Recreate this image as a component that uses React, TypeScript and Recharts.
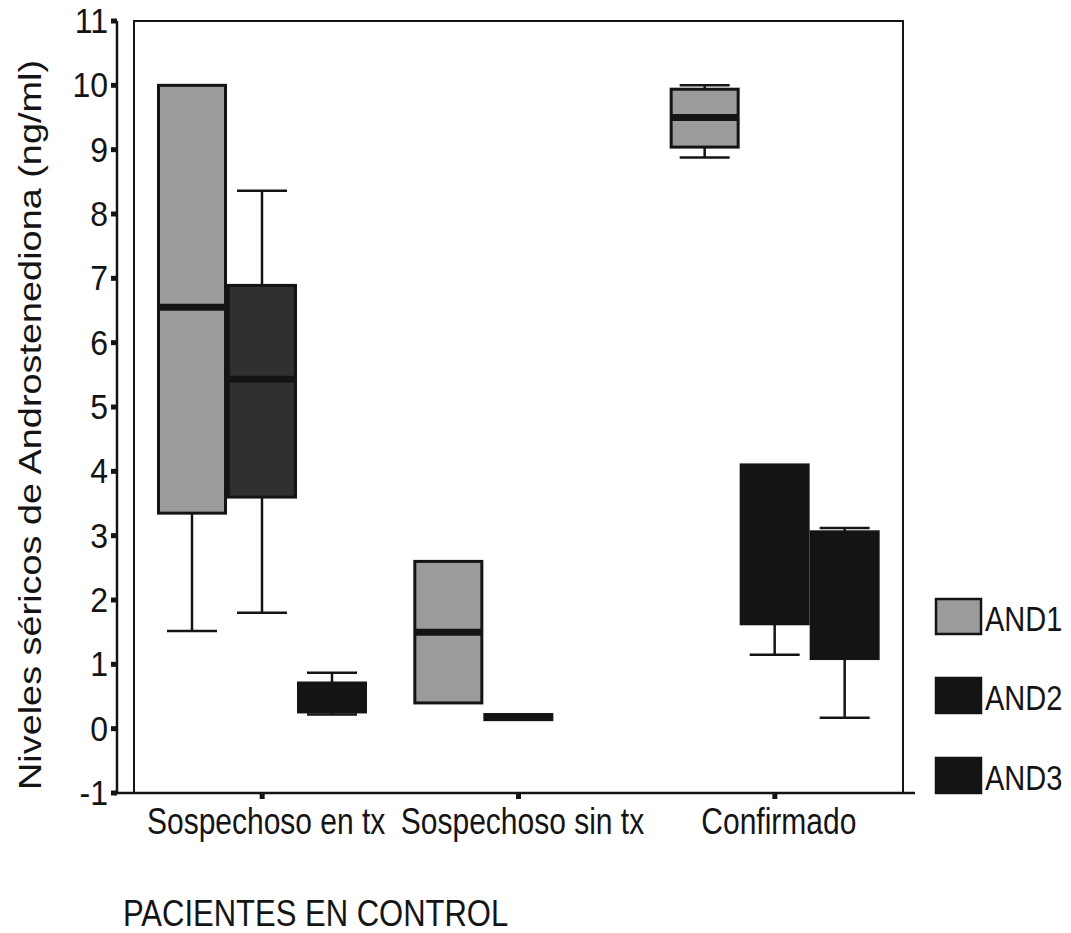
import React from 'react';
import { ComposedChart, Bar, XAxis, YAxis, ReferenceArea } from 'recharts';

const CATEGORIES = ['Sospechoso en tx', 'Sospechoso sin tx', 'Confirmado'];
const SERIES = ['AND1', 'AND2', 'AND3'];
const Y_TICKS = [-1, 0, 1, 2, 3, 4, 5, 6, 7, 8, 9, 10, 11];

// box plot summaries per group (null = no box drawn)
const AND1_MIN = [1.52, 0.4, 8.88];
const AND1_Q1 = [3.35, 0.4, 9.04];
const AND1_MEDIAN = [6.55, 1.5, 9.5];
const AND1_Q3 = [10.0, 2.6, 9.94];
const AND1_MAX = [10.0, 2.6, 10.0];

const AND2_MIN = [1.8, 0.14, 1.15];
const AND2_Q1 = [3.6, 0.14, 1.63];
const AND2_MEDIAN = [5.43, 0.18, 2.6];
const AND2_Q3 = [6.89, 0.22, 4.1];
const AND2_MAX = [8.36, 0.22, 4.1];

const AND3_MIN = [0.22, null, 0.17];
const AND3_Q1 = [0.26, null, 1.09];
const AND3_MEDIAN = [0.5, null, 2.0];
const AND3_Q3 = [0.71, null, 3.06];
const AND3_MAX = [0.87, null, 3.12];

const FONT = '"Liberation Sans", Arial, sans-serif';
const INK = '#141414';
// the scanned original is stretched vertically
const STRETCH = 1.2;

const FILLS: Record<string, string> = { AND1: '#9b9b9b', AND2: INK, AND3: INK };

function summary(min: any[], q1: any[], med: any[], q3: any[], max: any[], i: number) {
    if (min[i] == null) return null;
    return { min: min[i], q1: q1[i], med: med[i], q3: q3[i], max: max[i] };
}

const data = CATEGORIES.map((name, i) => ({
    name,
    AND1: summary(AND1_MIN, AND1_Q1, AND1_MEDIAN, AND1_Q3, AND1_MAX, i),
    AND2: summary(AND2_MIN, AND2_Q1, AND2_MEDIAN, AND2_Q3, AND2_MAX, i),
    AND3: summary(AND3_MIN, AND3_Q1, AND3_MEDIAN, AND3_Q3, AND3_MAX, i),
}));

function BoxShape(props: any) {
    const { x, y, width, height, payload, series, index } = props;
    const s = payload && payload[series];
    if (!s || width == null) return <g />;
    const top = Math.min(y, y + height);
    const bottom = Math.max(y, y + height);
    const ppu = (bottom - top) / (s.max - s.min);
    const py = (v: number) => top + (s.max - v) * ppu;
    const cx = x + width / 2;
    const cap = 25;
    // first AND2 box prints lighter in the original
    const fill = series === 'AND2' && index === 0 ? '#303030' : FILLS[series];
    return (
        <g>
            {s.max > s.q3 && (
                <g stroke={INK} strokeWidth={2.5}>
                    <line x1={cx} x2={cx} y1={py(s.max)} y2={py(s.q3)} />
                    <line x1={cx - cap} x2={cx + cap} y1={py(s.max)} y2={py(s.max)} />
                </g>
            )}
            {s.min < s.q1 && (
                <g stroke={INK} strokeWidth={2.5}>
                    <line x1={cx} x2={cx} y1={py(s.q1)} y2={py(s.min)} />
                    <line x1={cx - cap} x2={cx + cap} y1={py(s.min)} y2={py(s.min)} />
                </g>
            )}
            <rect
                x={x + 1.5}
                y={py(s.q3)}
                width={width - 3}
                height={Math.max(py(s.q1) - py(s.q3), 1)}
                fill={fill}
                stroke={INK}
                strokeWidth={3}
            />
            {fill !== INK && (
                <line x1={x + 1.5} x2={x + width - 1.5} y1={py(s.med)} y2={py(s.med)} stroke={INK} strokeWidth={7} />
            )}
        </g>
    );
}

const YTick = ({ x, y, payload }: any) => (
    <g transform={`translate(${x},${y}) scale(1,1.1)`}>
        <text x={0} y={0} dy={11} textAnchor="end" fontSize={32} fontFamily={FONT} fill={INK}>
            {payload.value}
        </text>
    </g>
);

const XTick = ({ x, y, payload }: any) => (
    <g transform={`translate(${x + 4},${y}) scale(1,${STRETCH})`}>
        <text x={0} y={0} dy={29} textAnchor="middle" fontSize={30} fontFamily={FONT} fill={INK}>
            {payload.value}
        </text>
    </g>
);

const LEGEND_TOPS = [598, 677, 757];

export default function App() {
    return (
        <div style={{ position: 'absolute', left: 0, top: 0, width: 1071, height: 933, background: '#fff' }}>
            <ComposedChart
                width={1071}
                height={933}
                data={data}
                margin={{ top: 21, right: 156, bottom: 80, left: 37 }}
                barGap={0}
            >
                <ReferenceArea y1={-1} y2={11} fill="none" stroke={INK} strokeWidth={2} />
                <XAxis
                    dataKey="name"
                    height={60}
                    padding={{ left: 17, right: 12 }}
                    axisLine={{ stroke: INK, strokeWidth: 2.5 }}
                    tickLine={{ stroke: INK, strokeWidth: 5 }}
                    tickSize={6}
                    tickMargin={0}
                    tick={<XTick />}
                    interval={0}
                />
                <YAxis
                    width={80}
                    domain={[-1, 11]}
                    ticks={Y_TICKS}
                    interval={0}
                    allowDataOverflow
                    axisLine={{ stroke: INK, strokeWidth: 2.5 }}
                    tickLine={{ stroke: INK, strokeWidth: 5 }}
                    tickSize={6}
                    tickMargin={3}
                    tick={<YTick />}
                />
                {SERIES.map((s) => (
                    <Bar
                        key={s}
                        dataKey={(d: any) => (d[s] ? [d[s].min, d[s].max] : null)}
                        name={s}
                        barSize={70}
                        fill={FILLS[s]}
                        isAnimationActive={false}
                        shape={(p: any) => <BoxShape {...p} series={s} />}
                    />
                ))}
            </ComposedChart>
            <svg
                width={1071}
                height={933}
                style={{ position: 'absolute', left: 0, top: 0, pointerEvents: 'none' }}
            >
                <text
                    transform="translate(41,425) rotate(-90)"
                    textAnchor="middle"
                    fontSize={32}
                    fontFamily={FONT}
                    fill={INK}
                    textLength={730}
                    lengthAdjust="spacingAndGlyphs"
                >
                    Niveles séricos de Androstenediona (ng/ml)
                </text>
                <g transform={`translate(123,926) scale(1,${STRETCH})`}>
                    <text x={0} y={0} fontSize={31} fontFamily={FONT} fill={INK}>
                        PACIENTES EN CONTROL
                    </text>
                </g>
                {SERIES.map((s, i) => (
                    <g key={s}>
                        <rect
                            x={936}
                            y={LEGEND_TOPS[i] + 1}
                            width={45}
                            height={35}
                            fill={FILLS[s]}
                            stroke={INK}
                            strokeWidth={2.5}
                        />
                        <g transform={`translate(985,${LEGEND_TOPS[i] + 33}) scale(1,${STRETCH})`}>
                            <text x={0} y={0} fontSize={29} fontFamily={FONT} fill={INK}>
                                {s}
                            </text>
                        </g>
                    </g>
                ))}
            </svg>
        </div>
    );
}
